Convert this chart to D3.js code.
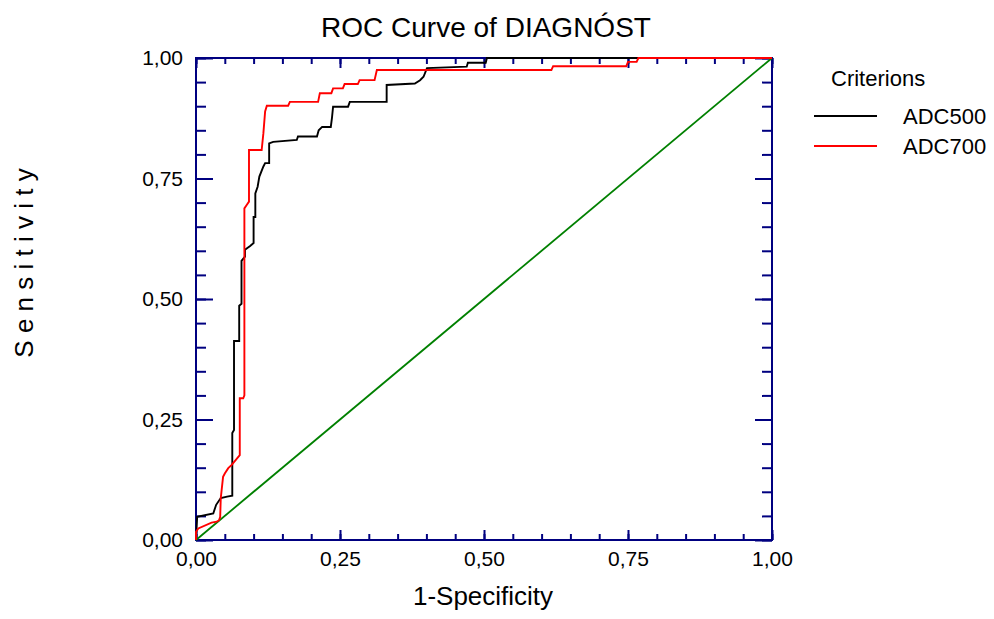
<!DOCTYPE html>
<html>
<head>
<meta charset="utf-8">
<script src="https://cdn.jsdelivr.net/npm/d3@7"></script>
<style>
  html, body { margin: 0; padding: 0; background: #fff; }
  text { font-family: "Liberation Sans", Arial, sans-serif; fill: #000; }
</style>
</head>
<body>
<svg id="chart" width="994" height="619"></svg>
<script>
// ---------- data ----------
const chartTitle = "ROC Curve of DIAGNÓST";
const xTitle = "1-Specificity";
const yTitle = "S e n s i t i v i t y";
const legendTitle = "Criterions";
const seriesNames = ["ADC500", "ADC700"];
const seriesColors = ["#000000", "#ff0000"];

const adc500FPR = [0.000,0.002,0.030,0.033,0.035,0.043,0.054,0.063,0.063,0.066,0.066,0.075,0.075,0.079,0.079,0.085,0.085,0.094,0.100,0.100,0.103,0.103,0.107,0.110,0.117,0.120,0.127,0.127,0.134,0.175,0.177,0.210,0.213,0.219,0.234,0.236,0.238,0.264,0.267,0.331,0.331,0.380,0.389,0.395,0.401,0.470,0.472,0.503,0.505,1.000];
const adc500TPR = [0.000,0.048,0.055,0.066,0.073,0.087,0.090,0.092,0.222,0.228,0.413,0.413,0.486,0.490,0.579,0.588,0.602,0.610,0.616,0.670,0.670,0.719,0.733,0.754,0.775,0.782,0.782,0.823,0.826,0.830,0.837,0.837,0.850,0.857,0.857,0.875,0.899,0.899,0.909,0.909,0.944,0.947,0.954,0.961,0.979,0.982,0.990,0.990,1.000,1.000];

const adc700FPR = [0.000,0.000,0.004,0.027,0.036,0.040,0.042,0.043,0.047,0.050,0.056,0.062,0.076,0.076,0.082,0.084,0.084,0.088,0.092,0.092,0.114,0.117,0.120,0.123,0.160,0.163,0.212,0.215,0.235,0.238,0.255,0.258,0.281,0.284,0.310,0.314,0.617,0.620,0.747,0.750,0.765,0.768,1.000];
const adc700TPR = [0.000,0.017,0.024,0.036,0.038,0.041,0.048,0.087,0.131,0.138,0.149,0.156,0.176,0.294,0.294,0.300,0.688,0.695,0.702,0.809,0.809,0.844,0.889,0.901,0.901,0.909,0.909,0.927,0.927,0.937,0.937,0.946,0.946,0.954,0.954,0.975,0.975,0.983,0.983,0.992,0.992,1.000,1.000];

const refFPR = [0, 1];
const refTPR = [0, 1];

const minorTicks = d3.range(0, 1.0001, 0.05);
const majorTicks = [0, 0.25, 0.5, 0.75, 1];

// ---------- layout ----------
const svg = d3.select("#chart");
const pLeft = 196, pRight = 772, pTop = 58, pBottom = 540;
const navy = "#000080";

const x = d3.scaleLinear().domain([0, 1]).range([pLeft, pRight]);
const y = d3.scaleLinear().domain([0, 1]).range([pBottom, pTop]);
const fmt = v => d3.format(".2f")(v).replace(".", ",");

svg.append("rect").attr("width", 994).attr("height", 619).attr("fill", "#fff");

function styleAxis(g) {
  g.select(".domain").remove();
  g.selectAll(".tick line").attr("stroke", navy).attr("stroke-width", 2);
  g.selectAll(".tick text").style("font-family", "Liberation Sans, Arial, sans-serif").style("font-size", "21px").attr("fill", "#000");
}
// bottom
svg.append("g").attr("transform", `translate(0,${pBottom})`)
  .call(d3.axisBottom(x).tickValues(minorTicks).tickSize(-6).tickFormat(""))
  .call(styleAxis);
svg.append("g").attr("transform", `translate(0,${pBottom})`)
  .call(d3.axisBottom(x).tickValues(majorTicks).tickSize(-10).tickPadding(11).tickFormat(fmt))
  .call(styleAxis);
// top
svg.append("g").attr("transform", `translate(0,${pTop})`)
  .call(d3.axisTop(x).tickValues(minorTicks).tickSize(-6).tickFormat(""))
  .call(styleAxis);
svg.append("g").attr("transform", `translate(0,${pTop})`)
  .call(d3.axisTop(x).tickValues(majorTicks).tickSize(-10).tickFormat(""))
  .call(styleAxis);
// left
svg.append("g").attr("transform", `translate(${pLeft},0)`)
  .call(d3.axisLeft(y).tickValues(minorTicks).tickSize(-10).tickFormat(""))
  .call(styleAxis);
svg.append("g").attr("transform", `translate(${pLeft},0)`)
  .call(d3.axisLeft(y).tickValues(majorTicks).tickSize(-17).tickPadding(13).tickFormat(fmt))
  .call(styleAxis);
// right
svg.append("g").attr("transform", `translate(${pRight},0)`)
  .call(d3.axisRight(y).tickValues(minorTicks).tickSize(-10).tickFormat(""))
  .call(styleAxis);
svg.append("g").attr("transform", `translate(${pRight},0)`)
  .call(d3.axisRight(y).tickValues(majorTicks).tickSize(-17).tickFormat(""))
  .call(styleAxis);

// frame
svg.append("rect")
  .attr("x", pLeft).attr("y", pTop)
  .attr("width", pRight - pLeft).attr("height", pBottom - pTop)
  .attr("fill", "none").attr("stroke", navy).attr("stroke-width", 2);

// lines
const line = d3.line().x(d => x(d[0])).y(d => y(d[1]));
const zip = (a, b) => a.map((v, i) => [v, b[i]]);

svg.append("path").datum(zip(refFPR, refTPR))
  .attr("d", line).attr("fill", "none").attr("stroke", "#008000").attr("stroke-width", 1.8);

const series = [zip(adc500FPR, adc500TPR), zip(adc700FPR, adc700TPR)];
series.forEach((s, i) => {
  svg.append("path").datum(s)
    .attr("d", line).attr("fill", "none")
    .attr("stroke", seriesColors[i]).attr("stroke-width", 1.9)
    .attr("stroke-linejoin", "miter");
});

// titles
svg.append("text").attr("x", 486).attr("y", 37).attr("text-anchor", "middle")
  .style("font-size", "28px").text(chartTitle);
svg.append("text").attr("x", 483).attr("y", 605).attr("text-anchor", "middle")
  .style("font-size", "26px").text(xTitle);
svg.append("text").attr("transform", "translate(33,263) rotate(-90)").attr("text-anchor", "middle")
  .style("font-size", "26px").text(yTitle);

// legend
svg.append("text").attr("x", 831).attr("y", 86).style("font-size", "22px").text(legendTitle);
const legY = [116, 146];
seriesNames.forEach((n, i) => {
  svg.append("line").attr("x1", 814).attr("x2", 877).attr("y1", legY[i]).attr("y2", legY[i])
    .attr("stroke", seriesColors[i]).attr("stroke-width", 1.9);
  svg.append("text").attr("x", 903).attr("y", legY[i] + 8).style("font-size", "22px").text(n);
});
</script>
</body>
</html>
